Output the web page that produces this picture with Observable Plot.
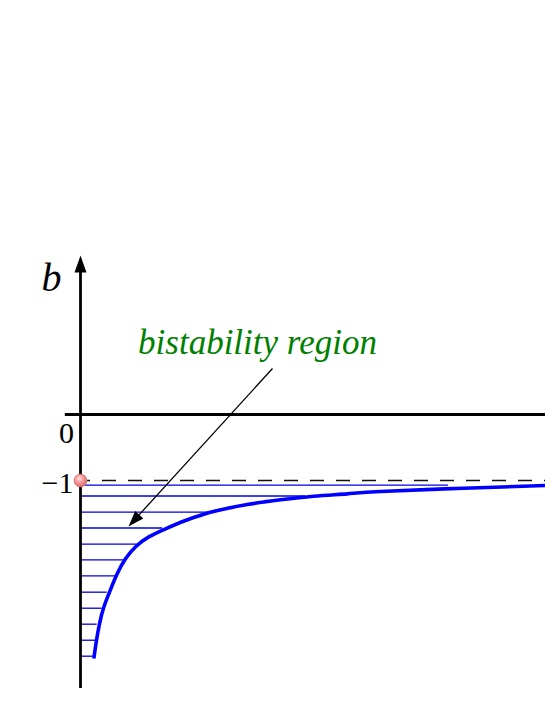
<!DOCTYPE html>
<html><head><meta charset="utf-8">
<script src="https://cdn.jsdelivr.net/npm/d3@7"></script>
<script src="https://cdn.jsdelivr.net/npm/@observablehq/plot@0.6"></script>
<style>html,body{margin:0;padding:0;background:#fff}</style>
</head><body><div id="chart"></div>
<script>
// Boundary curve of the bistability region (a, b)
const curveA = [0.202, 0.242, 0.288, 0.353, 0.455, 0.556, 0.682, 0.840, 1.035, 1.288, 1.591, 1.844, 2.045, 2.526, 3.030, 3.533, 4.041, 4.545, 5.803, 7.045];
const curveB = [-3.697, -3.424, -3.171, -2.920, -2.652, -2.414, -2.186, -2.000, -1.855, -1.732, -1.606, -1.520, -1.462, -1.364, -1.292, -1.238, -1.202, -1.167, -1.117, -1.076];

// Hatch lines filling the region (level b, end a on the curve)
const hatchB = [-1.071, -1.235, -1.480, -1.720, -1.965, -2.202, -2.444, -2.692, -2.935, -3.177, -3.420, -3.662];
const hatchEndA = [5.576, 3.409, 1.970, 1.247, 0.883, 0.656, 0.530, 0.405, 0.329, 0.252, 0.227, 0.192];

// Tick labels on the b axis
const tickB = [0, -1];
const tickLabels = ["0", "\u22121"];

// Axis extents
const xAxisRange = [-0.23, 7.05];
const yAxisRange = [-4.15, 2.41];
const asymptoteB = -1;

// Annotation
const annotationText = "bistability region";
const annotationFrom = [2.909, 0.697];
const annotationTo = [0.727, -1.697];
const axisName = "b";

const curve = curveA.map((a, i) => ({a, b: curveB[i]}));
const hatch = hatchB.map((b, i) => ({b, end: hatchEndA[i]}));
const ticks = tickB.map((b, i) => ({b, label: tickLabels[i]}));

const serif = "'Liberation Serif', 'Times New Roman', serif";
const headUp = (len, half) => ({draw(ctx) { ctx.moveTo(0, 0); ctx.lineTo(-half, len); ctx.lineTo(half, len); ctx.closePath(); }});

// screen angle (both scales 66 px/unit)
const dx = annotationTo[0] - annotationFrom[0];
const dy = -(annotationTo[1] - annotationFrom[1]);
const ang = Math.atan2(dx, -dy) * 180 / Math.PI;
const rad = ang * Math.PI / 180;

const chart = Plot.plot({
  width: 545, height: 705,
  marginTop: 0, marginBottom: 0, marginLeft: 0, marginRight: 0,
  x: {domain: [-80/66, 465/66], axis: null},
  y: {domain: [-291/66, 414/66], axis: null},
  style: {background: "#fff"},
  marks: [
    // hatch
    Plot.ruleY(hatch, {y: "b", x1: 0, x2: "end", stroke: "#0000e0", strokeWidth: 1.3}),
    // asymptote b = -1
    Plot.ruleY([asymptoteB], {x1: 0, x2: xAxisRange[1], stroke: "#111", strokeWidth: 1.5, strokeDasharray: "14,12", strokeDashoffset: 4}),
    // axes
    Plot.ruleY([0], {x1: xAxisRange[0], x2: xAxisRange[1], stroke: "#000", strokeWidth: 2.8}),
    Plot.ruleX([0], {y1: yAxisRange[0], y2: yAxisRange[1] - 0.2, stroke: "#000", strokeWidth: 2.8}),
    Plot.dot([{a: 0, b: yAxisRange[1]}], {x: "a", y: "b", symbol: headUp(17, 6), fill: "#000", stroke: null, r: 5}),
    // curve
    Plot.line(curve, {x: "a", y: "b", stroke: "#0000ff", strokeWidth: 3.6, curve: "natural", strokeLinecap: "butt"}),
    // annotation arrow
    Plot.link([{x1: annotationFrom[0], y1: annotationFrom[1], x2: annotationTo[0] - 0.12 * Math.sin(rad), y2: annotationTo[1] - 0.12 * Math.cos(rad)}], {x1: "x1", y1: "y1", x2: "x2", y2: "y2", stroke: "#000", strokeWidth: 1.3}),
    Plot.dot([{a: annotationTo[0], b: annotationTo[1]}], {x: "a", y: "b", symbol: headUp(16, 5.5), fill: "#000", stroke: null, r: 5, rotate: ang}),
    Plot.text([{a: annotationFrom[0], b: annotationFrom[1]}], {x: "a", y: "b", text: [annotationText], dx: -15, dy: -26, fill: "#008000", fontSize: 35, fontStyle: "italic", fontFamily: serif}),
    // equilibrium point
    Plot.dot([{a: 0, b: asymptoteB}], {x: "a", y: "b", r: 6.3, fill: "url(#ballGrad)", stroke: "#e07070", strokeWidth: 1}),
    // labels
    Plot.text(ticks.filter(d => d.b === 0), {x: 0, y: "b", text: "label", dx: -14, dy: 18.5, fontSize: 30, fontFamily: serif, fill: "#000"}),
    Plot.text(ticks.filter(d => d.b !== 0), {x: 0, y: "b", text: "label", dx: -7, dy: 2.5, textAnchor: "end", fontSize: 30, fontFamily: serif, fill: "#000"}),
    Plot.text([{a: 0, b: yAxisRange[1]}], {x: "a", y: "b", text: [axisName], dx: -29, dy: 23, fontSize: 40, fontStyle: "italic", fontFamily: serif, fill: "#000"})
  ]
});
const ns = "http://www.w3.org/2000/svg";
const defs = document.createElementNS(ns, "defs");
defs.innerHTML = '<radialGradient id="ballGrad" cx="0.4" cy="0.35" r="0.65"><stop offset="0" stop-color="#ffe0e0"/><stop offset="0.5" stop-color="#f59a9a"/><stop offset="1" stop-color="#e06a6a"/></radialGradient>';
chart.insertBefore(defs, chart.firstChild);
document.getElementById("chart").appendChild(chart);
</script>
</body></html>
